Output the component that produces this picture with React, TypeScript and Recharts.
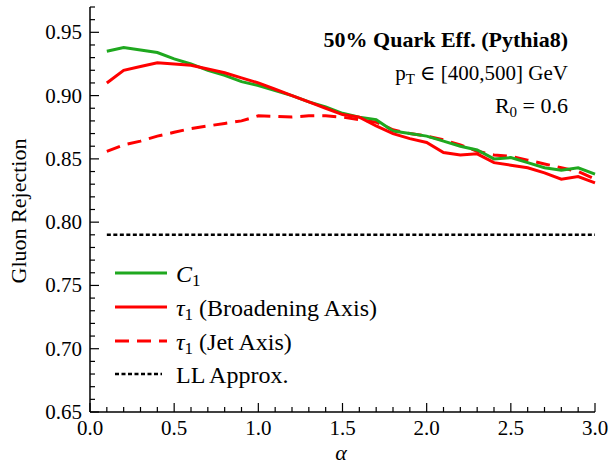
import { LineChart, Line, XAxis, YAxis } from 'recharts'

const alpha = [0.1, 0.2, 0.3, 0.4, 0.5, 0.6, 0.7, 0.8, 0.9, 1.0, 1.1, 1.2, 1.3, 1.4, 1.5, 1.6, 1.7, 1.8, 1.9, 2.0, 2.1, 2.2, 2.3, 2.4, 2.5, 2.6, 2.7, 2.8, 2.9, 3.0]
const c1 = [0.935, 0.938, 0.936, 0.934, 0.929, 0.925, 0.920, 0.916, 0.911, 0.908, 0.904, 0.900, 0.895, 0.891, 0.886, 0.883, 0.881, 0.872, 0.870, 0.868, 0.864, 0.860, 0.857, 0.850, 0.851, 0.847, 0.843, 0.841, 0.843, 0.838]
const tauBroad = [0.910, 0.920, 0.923, 0.926, 0.925, 0.924, 0.921, 0.918, 0.914, 0.910, 0.905, 0.900, 0.895, 0.890, 0.885, 0.883, 0.876, 0.870, 0.866, 0.863, 0.855, 0.853, 0.854, 0.847, 0.845, 0.843, 0.839, 0.834, 0.836, 0.831]
const tauJet = [0.856, 0.861, 0.864, 0.868, 0.871, 0.874, 0.876, 0.878, 0.880, 0.884, 0.8835, 0.883, 0.884, 0.884, 0.883, 0.881, 0.879, 0.873, 0.870, 0.868, 0.865, 0.861, 0.856, 0.853, 0.852, 0.849, 0.846, 0.843, 0.840, 0.834]
const llApprox = 0.79

const xMajor = [0.0, 0.5, 1.0, 1.5, 2.0, 2.5, 3.0]
const yMajor = [0.65, 0.70, 0.75, 0.80, 0.85, 0.90, 0.95]

const xTicks = Array.from({ length: 31 }, (_, i) => i / 10)
const yTicks = Array.from({ length: 33 }, (_, i) => (65 + i) / 100)

const data = alpha.map((a, i) => ({ a, c1: c1[i], broad: tauBroad[i], jet: tauJet[i], ll: llApprox }))

const font = '"Liberation Serif", "DejaVu Serif", serif'
const green = '#1fa81f'
const red = '#ff0000'

const isMajor = (v: number, list: number[]) => list.some((m) => Math.abs(m - v) < 1e-6)

const BottomTick = ({ x, y, payload }: any) => {
  const major = isMajor(payload.value, xMajor)
  return (
    <g>
      <line x1={x} x2={x} y1={y} y2={y - (major ? 9 : 5)} stroke="#000" strokeWidth={1.2} />
      {major && (
        <text x={x} y={y + 23} textAnchor="middle" fontSize={21} fontFamily={font} fill="#000">
          {payload.value.toFixed(1)}
        </text>
      )}
    </g>
  )
}

const TopTick = ({ x, y, payload }: any) => {
  const major = isMajor(payload.value, xMajor)
  return <line x1={x} x2={x} y1={y} y2={y + (major ? 9 : 5)} stroke="#000" strokeWidth={1.2} />
}

const LeftTick = ({ x, y, payload }: any) => {
  const major = isMajor(payload.value, yMajor)
  return (
    <g>
      <line x1={x} x2={x + (major ? 9 : 5)} y1={y} y2={y} stroke="#000" strokeWidth={1.2} />
      {major && (
        <text x={x - 8} y={y + 7} textAnchor="end" fontSize={21} fontFamily={font} fill="#000">
          {payload.value.toFixed(2)}
        </text>
      )}
    </g>
  )
}

const RightTick = ({ x, y, payload }: any) => {
  const major = isMajor(payload.value, yMajor)
  return <line x1={x} x2={x - (major ? 9 : 5)} y1={y} y2={y} stroke="#000" strokeWidth={1.2} />
}

export default function App() {
  return (
    <div style={{ position: 'absolute', left: 0, top: 0, width: 613, height: 465, background: '#fff' }}>
      <LineChart width={613} height={465} data={data} margin={{ top: 7, right: 18, left: 0, bottom: 0 }}>
        <XAxis
          xAxisId="b"
          dataKey="a"
          type="number"
          domain={[0, 3]}
          ticks={xTicks}
          interval={0}
          tickSize={0}
          tickMargin={0}
          height={53}
          axisLine={{ stroke: '#000', strokeWidth: 1.5 }}
          tickLine={false}
          tick={<BottomTick />}
        />
        <XAxis
          xAxisId="t"
          orientation="top"
          dataKey="a"
          type="number"
          domain={[0, 3]}
          ticks={xTicks}
          interval={0}
          tickSize={0}
          tickMargin={0}
          height={0}
          axisLine={{ stroke: '#000', strokeWidth: 1.5 }}
          tickLine={false}
          tick={<TopTick />}
        />
        <YAxis
          yAxisId="l"
          type="number"
          domain={[0.65, 0.97]}
          allowDataOverflow
          ticks={yTicks}
          interval={0}
          tickSize={0}
          tickMargin={0}
          width={90}
          axisLine={{ stroke: '#000', strokeWidth: 1.5 }}
          tickLine={false}
          tick={<LeftTick />}
        />
        <YAxis
          yAxisId="r"
          orientation="right"
          type="number"
          domain={[0.65, 0.97]}
          allowDataOverflow
          ticks={yTicks}
          interval={0}
          tickSize={0}
          tickMargin={0}
          width={0}
          axisLine={{ stroke: '#000', strokeWidth: 1.5 }}
          tickLine={false}
          tick={<RightTick />}
        />
        <Line xAxisId="b" yAxisId="l" dataKey="ll" stroke="#000" strokeWidth={2.5} strokeDasharray="4 2.5" dot={false} isAnimationActive={false} />
        <Line xAxisId="b" yAxisId="l" dataKey="jet" stroke={red} strokeWidth={3} strokeDasharray="14 8" dot={false} isAnimationActive={false} />
        <Line xAxisId="b" yAxisId="l" dataKey="c1" stroke={green} strokeWidth={3} dot={false} isAnimationActive={false} />
        <Line xAxisId="b" yAxisId="l" dataKey="broad" stroke={red} strokeWidth={3} dot={false} isAnimationActive={false} />
      </LineChart>
      <svg width={613} height={465} style={{ position: 'absolute', left: 0, top: 0, pointerEvents: 'none' }}>
        <g fontFamily={font} fill="#000">
          <text x={568} y={47} textAnchor="end" fontSize={22} fontWeight="bold">50% Quark Eff. (Pythia8)</text>
          <text x={568} y={80} textAnchor="end" fontSize={21}>
            p<tspan fontSize={15} dy={4}>T</tspan>
            <tspan dy={-4}> ∈ [400,500] GeV</tspan>
          </text>
          <text x={568} y={113} textAnchor="end" fontSize={22}>
            R<tspan fontSize={15} dy={4}>0</tspan>
            <tspan dy={-4}> = 0.6</tspan>
          </text>
          <text transform="translate(26,211) rotate(-90)" textAnchor="middle" fontSize={22}>Gluon Rejection</text>
          <text x={341} y={460} textAnchor="middle" fontSize={22} fontStyle="italic">α</text>
        </g>
        <g fontFamily={font} fontSize={24} fill="#000" transform="translate(115,258)">
          <line x1={0} x2={52} y1={15} y2={15} stroke={green} strokeWidth={3} />
          <text x={61} y={24}>
            <tspan fontStyle="italic">C</tspan>
            <tspan fontSize={17} dy={4}>1</tspan>
          </text>
          <line x1={0} x2={52} y1={49} y2={49} stroke={red} strokeWidth={3} />
          <text x={61} y={58}>
            <tspan fontStyle="italic">τ</tspan>
            <tspan fontSize={17} dy={4}>1</tspan>
            <tspan dy={-4}> (Broadening Axis)</tspan>
          </text>
          <line x1={0} x2={52} y1={83} y2={83} stroke={red} strokeWidth={3} strokeDasharray="14 8" />
          <text x={61} y={92}>
            <tspan fontStyle="italic">τ</tspan>
            <tspan fontSize={17} dy={4}>1</tspan>
            <tspan dy={-4}> (Jet Axis)</tspan>
          </text>
          <line x1={0} x2={47} y1={116} y2={116} stroke="#000" strokeWidth={2.5} strokeDasharray="4 2.5" />
          <text x={61} y={125}>LL Approx.</text>
        </g>
      </svg>
    </div>
  )
}
